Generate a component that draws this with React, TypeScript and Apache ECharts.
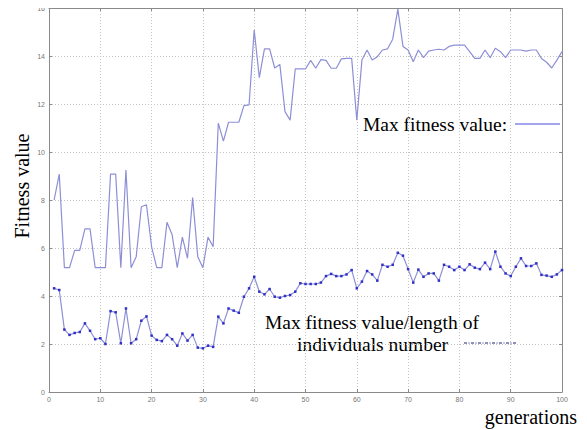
import React, { useEffect, useRef } from "react";
import * as echarts from "echarts";

const generations: number[] = Array.from({ length: 100 }, (_, i) => i + 1);

const maxFitness: number[] = [
  8.0, 9.08, 5.18, 5.18, 5.9, 5.9, 6.8, 6.8, 5.18, 5.18,
  5.18, 9.08, 9.08, 5.18, 9.25, 5.18, 5.64, 7.72, 7.8, 6.05,
  5.18, 5.18, 7.07, 6.55, 5.18, 6.45, 5.57, 8.1, 5.64, 5.18,
  6.45, 6.05, 11.2, 10.45, 11.24, 11.24, 11.24, 11.93, 11.96, 15.08,
  13.1, 14.3, 14.3, 13.5, 13.65, 11.68, 11.33, 13.46, 13.46, 13.46,
  13.82, 13.49, 13.85, 13.82, 13.49, 13.49, 13.88, 13.9, 13.9, 11.33,
  13.83, 14.25, 13.83, 13.97, 14.25, 14.3, 14.7, 15.95, 14.4, 14.25,
  13.76, 14.25, 13.93, 14.2, 14.25, 14.28, 14.25, 14.4, 14.45, 14.45,
  14.45, 14.18, 13.9, 13.9, 14.25, 13.93, 14.32, 14.18, 13.93, 14.25,
  14.25, 14.25, 14.2, 14.25, 14.25, 13.9, 13.74, 13.5, 13.83, 14.18,
];

const maxFitnessPerLength: number[] = [
  4.32, 4.25, 2.6, 2.38, 2.46, 2.5, 2.86, 2.55, 2.2, 2.24,
  2.0, 3.37, 3.32, 2.03, 3.48, 2.03, 2.2, 2.97, 3.15, 2.35,
  2.17, 2.12, 2.38, 2.2, 1.93, 2.44, 2.14, 2.38, 1.85, 1.82,
  1.93, 1.88, 3.14, 2.86, 3.48, 3.39, 3.3, 3.97, 4.32, 4.8,
  4.18, 4.07, 4.29, 3.97, 3.93, 4.0, 4.04, 4.18, 4.53, 4.5,
  4.5, 4.5, 4.56, 4.83, 4.92, 4.83, 4.83, 4.9, 5.08, 4.32,
  4.6, 5.04, 4.9, 4.64, 5.3, 5.22, 5.3, 5.8, 5.68, 5.12,
  4.56, 5.1, 4.8, 4.94, 4.94, 4.64, 5.3, 5.22, 5.08, 5.22,
  5.08, 5.32, 5.18, 5.12, 5.39, 5.12, 5.85, 5.22, 4.94, 4.83,
  5.22, 5.57, 5.25, 5.25, 5.36, 4.88, 4.85, 4.8, 4.9, 5.08,
];

const xTicks = { min: 0, max: 100, interval: 10 };
const yTicks = { min: 0, max: 16, interval: 2 };

export default function App() {
  const ref = useRef<HTMLDivElement>(null);
  useEffect(() => {
    if (!ref.current) return;
    const chart = echarts.init(ref.current, null, { renderer: "svg" });
    const frame = "#8a8a8a";
    const gridLine = { show: true, lineStyle: { color: "#c4c4c4", type: [1, 2] as any, width: 1 } };
    const labelStyle = { color: "#777", fontSize: 7, fontFamily: "Liberation Sans" };
    const serif = "Liberation Serif";
    chart.setOption({
      animation: false,
      backgroundColor: "#ffffff",
      grid: { left: 49, top: 8, right: 25, bottom: 38, containLabel: false },
      xAxis: [
        {
          type: "value",
          ...xTicks,
          axisLine: { show: true, onZero: false, lineStyle: { color: frame } },
          axisTick: { show: true, inside: true, length: 3, lineStyle: { color: frame } },
          axisLabel: { ...labelStyle, margin: 4 },
          splitLine: gridLine,
        },
        {
          type: "value",
          position: "top",
          ...xTicks,
          axisLine: { show: true, onZero: false, lineStyle: { color: frame } },
          axisTick: { show: true, inside: true, length: 3, lineStyle: { color: frame } },
          axisLabel: { show: false },
          splitLine: { show: false },
        },
      ],
      yAxis: [
        {
          type: "value",
          ...yTicks,
          axisLine: { show: true, onZero: false, lineStyle: { color: frame } },
          axisTick: { show: true, inside: true, length: 3, lineStyle: { color: frame } },
          axisLabel: { ...labelStyle, margin: 4 },
          splitLine: gridLine,
        },
        {
          type: "value",
          position: "right",
          ...yTicks,
          axisLine: { show: true, onZero: false, lineStyle: { color: frame } },
          axisTick: { show: true, inside: true, length: 3, lineStyle: { color: frame } },
          axisLabel: { show: false },
          splitLine: { show: false },
        },
      ],
      series: [
        {
          name: "Max fitness value",
          type: "line",
          data: generations.map((g, i) => [g, maxFitness[i]]),
          showSymbol: false,
          lineStyle: { color: "#8d8fd6", width: 1.2 },
          itemStyle: { color: "#8d8fd6" },
        },
        {
          name: "Max fitness value/length of individuals number",
          type: "line",
          data: generations.map((g, i) => [g, maxFitnessPerLength[i]]),
          symbol: "rect",
          symbolSize: 2.5,
          showSymbol: true,
          lineStyle: { color: "#8d8fd6", width: 1.2 },
          itemStyle: { color: "#3030c8" },
        },
      ],
      graphic: [
        {
          type: "text",
          x: 22,
          y: 186,
          rotation: Math.PI / 2,
          style: {
            text: "Fitness value",
            font: `20px ${serif}`,
            fill: "#000",
            align: "center",
            verticalAlign: "middle",
          },
        },
        {
          type: "text",
          x: 577,
          y: 417,
          style: {
            text: "generations",
            font: `20px ${serif}`,
            fill: "#000",
            align: "right",
            verticalAlign: "middle",
          },
        },
        {
          type: "text",
          x: 363,
          y: 124,
          style: {
            text: "Max fitness value:",
            font: `19.5px ${serif}`,
            fill: "#000",
            align: "left",
            verticalAlign: "middle",
          },
        },
        {
          type: "line",
          shape: { x1: 515, y1: 124, x2: 560, y2: 124 },
          style: { stroke: "#4a4ae0", lineWidth: 1.2 },
        },
        {
          type: "text",
          x: 265,
          y: 322,
          style: {
            text: "Max fitness value/length of",
            font: `19.5px ${serif}`,
            fill: "#000",
            align: "left",
            verticalAlign: "middle",
          },
        },
        {
          type: "text",
          x: 297,
          y: 344,
          style: {
            text: "individuals number",
            font: `19.5px ${serif}`,
            fill: "#000",
            align: "left",
            verticalAlign: "middle",
          },
        },
        {
          type: "line",
          shape: { x1: 464, y1: 343, x2: 516, y2: 343 },
          style: { stroke: "#202070", lineWidth: 1, lineDash: [3, 1.5, 1, 1.5] },
        },
      ],
    });
    return () => chart.dispose();
  }, []);
  return <div ref={ref} style={{ width: 587, height: 430, marginTop: -8, marginLeft: -8 }} />;
}
